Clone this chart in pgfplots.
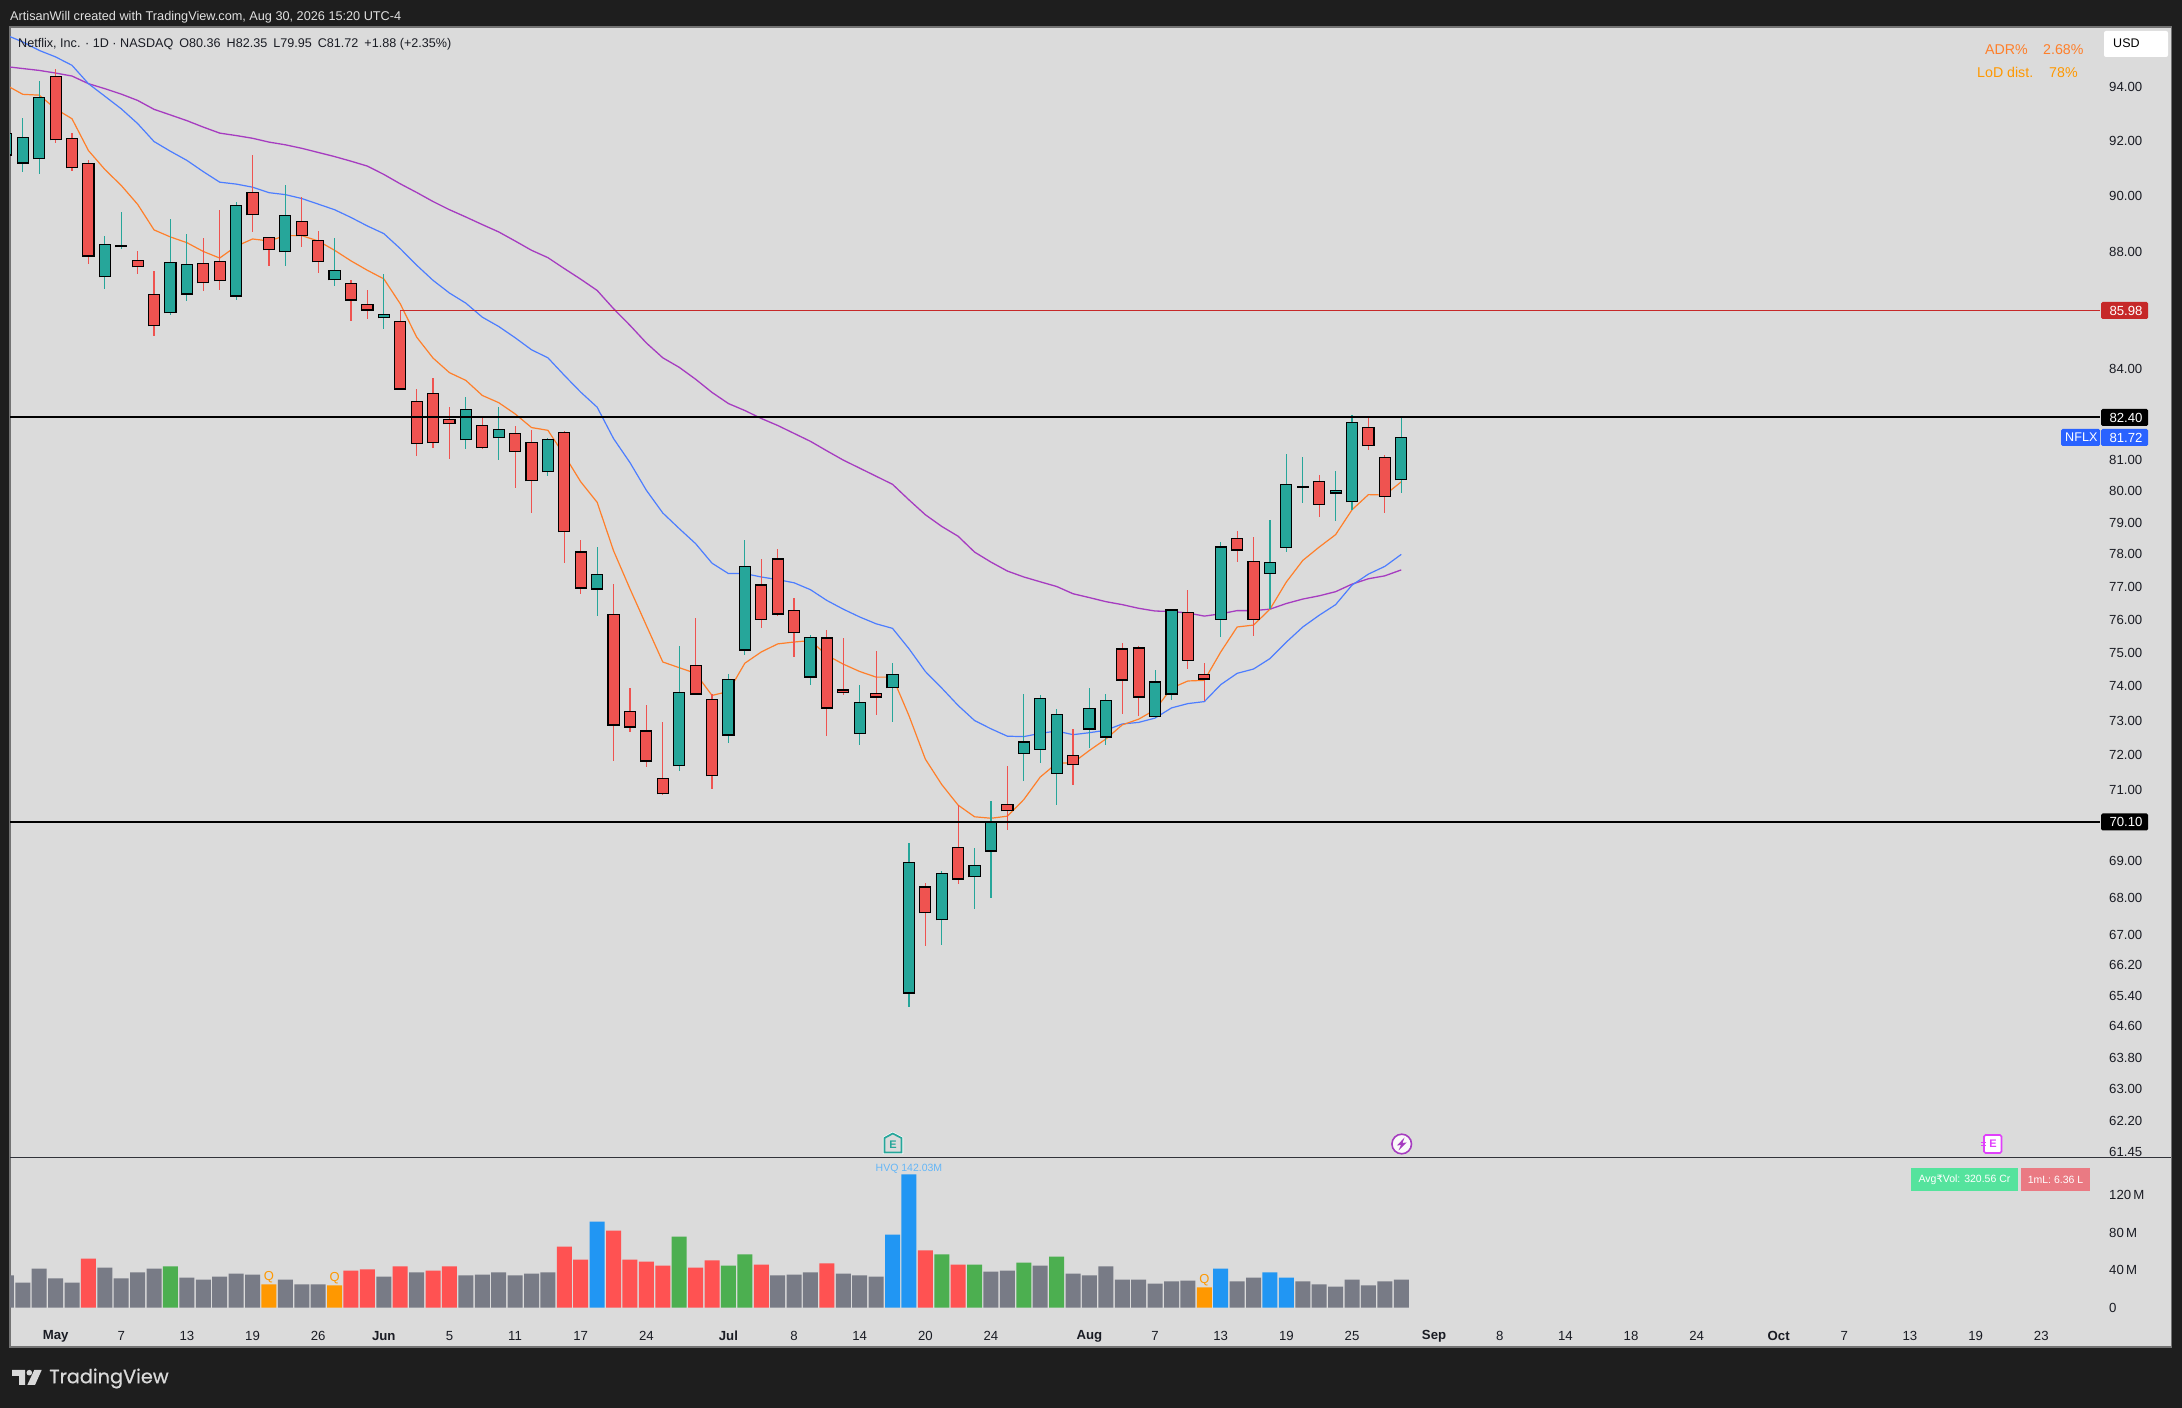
\documentclass[border=0pt]{standalone}
\usepackage{fontspec}
\setmainfont{Liberation Sans}
\newfontfamily\tvfont[FakeBold=0.7]{Poppins}
\newfontfamily\dejavu{DejaVu Sans}
\usepackage{pgfplots}
\usepackage{pgfplotstable}
\pgfplotsset{compat=1.18}
\definecolor{outer}{HTML}{1E1E1E}
\definecolor{panel}{HTML}{DBDBDB}
\definecolor{upc}{HTML}{26A69A}
\definecolor{downc}{HTML}{EF5350}
\definecolor{ema}{HTML}{FF7F2A}
\definecolor{sma}{HTML}{4C7DFF}
\definecolor{lma}{HTML}{A63CC0}
\definecolor{volgray}{HTML}{787B86}
\definecolor{volred}{HTML}{FF5252}
\definecolor{volgreen}{HTML}{4CAF50}
\definecolor{volblue}{HTML}{2196F3}
\definecolor{volorange}{HTML}{FF9800}
\definecolor{txt}{HTML}{1A1C24}
\definecolor{badgegreen}{HTML}{55E39D}
\definecolor{badgered}{HTML}{EA7A83}
\definecolor{badgeblue}{HTML}{2962FF}
\definecolor{levelred}{HTML}{C62828}
\definecolor{earn}{HTML}{E040FB}
% candles: n = trading days after May 1
\pgfplotstableread{
n o h l c
-3 91.49 92.45 91.41 92.27
-2 91.20 92.86 90.86 92.12
-1 91.35 94.22 90.79 93.60
3 87.15 88.57 86.72 88.27
7 85.90 89.17 85.81 87.64
8 86.55 88.64 86.30 87.57
11 86.48 89.80 86.33 89.65
14 88.02 90.38 87.52 89.30
17 87.04 88.50 86.82 87.36
20 85.73 87.23 85.34 85.83
25 81.66 83.07 81.35 82.64
27 81.72 82.74 81.00 81.98
30 80.62 81.72 80.47 81.66
33 76.94 78.25 76.12 77.37
38 71.69 75.21 71.53 73.81
41 72.58 74.36 72.33 74.19
42 75.08 78.44 74.92 77.64
46 74.28 75.54 74.04 75.47
49 72.63 74.03 72.28 73.51
51 73.96 74.68 72.95 74.35
52 65.47 69.50 65.10 68.96
54 67.41 68.75 66.73 68.66
56 68.58 69.36 67.70 68.88
57 69.29 70.70 67.99 70.10
59 72.05 73.76 71.25 72.37
60 72.17 73.73 71.76 73.63
61 71.48 73.32 70.57 73.17
63 72.76 73.96 72.18 73.34
64 72.52 73.76 72.30 73.57
67 73.11 74.50 73.09 74.13
68 73.78 76.33 73.59 76.29
71 76.02 78.39 75.47 78.23
74 77.43 79.10 76.32 77.76
75 78.24 81.18 78.09 80.21
78 79.95 80.63 79.05 80.01
79 79.66 82.45 79.41 82.21
82 80.36 82.35 79.95 81.72
}\upcandles
\pgfplotstableread{
n o h l c
4 88.20 89.42 88.13 88.24
76 80.13 81.08 79.61 80.14
}\dojis
\pgfplotstableread{
n o h l c
0 94.40 94.70 91.92 92.05
1 92.08 92.30 90.89 91.02
2 91.17 91.29 87.59 87.87
5 87.71 88.03 87.23 87.50
6 86.52 87.34 85.11 85.46
9 87.60 88.50 86.65 86.94
10 87.67 89.49 86.68 87.01
12 90.12 91.47 88.72 89.33
13 88.52 88.54 87.52 88.09
15 89.09 89.98 88.19 88.59
16 88.41 88.74 87.28 87.67
18 86.90 87.04 85.62 86.34
19 86.17 86.67 85.68 86.00
21 85.60 85.97 83.29 83.33
22 82.90 83.31 81.13 81.53
23 83.17 83.70 81.38 81.56
24 82.31 82.74 81.03 82.18
26 82.11 82.35 81.35 81.40
28 81.85 82.09 80.10 81.27
29 81.56 81.98 79.30 80.33
31 81.88 81.93 77.73 78.71
32 78.08 78.44 76.77 76.97
34 76.15 77.10 71.82 72.87
35 73.25 73.96 72.65 72.81
36 72.69 73.46 71.65 71.83
37 71.32 72.94 70.88 70.89
39 74.61 76.06 73.73 73.78
40 73.60 73.76 71.02 71.40
43 77.06 77.85 75.73 76.02
44 77.87 78.19 76.10 76.18
45 76.27 76.64 74.89 75.60
47 75.44 75.68 72.54 73.37
48 73.89 75.45 73.74 73.83
50 73.78 75.06 73.16 73.69
53 68.30 68.40 66.71 67.60
55 69.37 70.57 68.38 68.52
58 70.58 71.67 69.87 70.41
62 71.97 72.76 71.13 71.72
65 75.11 75.30 73.19 74.19
66 75.14 75.21 73.12 73.69
69 76.21 76.92 74.51 74.78
70 74.35 74.68 73.56 74.22
72 78.49 78.75 77.78 78.15
73 77.80 78.54 75.50 76.02
77 80.30 80.50 79.17 79.60
80 82.05 82.41 81.32 81.46
81 81.07 81.15 79.30 79.83
}\downcandles
\pgfplotstableread{
n ema sma lma
-3 94.07 95.97 94.77
-2 93.73 95.71 94.70
-1 93.70 95.39 94.63
0 93.19 95.14 94.53
1 92.82 94.82 94.42
2 91.65 94.13 94.13
3 90.96 93.66 93.94
4 90.38 93.19 93.74
5 89.70 92.64 93.50
6 88.79 91.98 93.17
7 88.54 91.62 92.96
8 88.34 91.29 92.75
9 88.03 90.88 92.51
10 87.80 90.50 92.29
11 88.21 90.43 92.20
12 88.47 90.32 92.10
13 88.40 90.12 91.96
14 88.59 90.05 91.86
15 88.59 89.91 91.73
16 88.40 89.71 91.58
17 88.07 89.51 91.43
18 87.70 89.23 91.26
19 87.37 88.93 91.08
20 87.07 88.66 90.78
21 86.21 88.13 90.44
22 85.07 87.55 90.13
23 84.36 87.02 89.80
24 83.87 86.58 89.51
25 83.61 86.23 89.25
26 83.11 85.75 88.98
27 82.87 85.43 88.72
28 82.50 85.05 88.40
29 82.05 84.64 88.07
30 81.96 84.37 87.81
31 81.15 83.78 87.43
32 80.29 83.22 87.06
33 79.65 82.72 86.67
34 78.12 81.69 86.04
35 76.94 80.91 85.47
36 75.82 80.02 84.87
37 74.72 79.31 84.37
38 74.55 78.82 84.05
39 74.38 78.34 83.65
40 73.73 77.73 83.21
41 73.85 77.41 82.84
42 74.69 77.41 82.61
43 75.02 77.31 82.35
44 75.26 77.22 82.12
45 75.33 77.12 81.86
46 75.36 76.92 81.60
47 74.93 76.58 81.29
48 74.66 76.32 80.99
49 74.44 76.08 80.73
50 74.27 75.87 80.47
51 74.27 75.73 80.21
52 73.14 75.12 79.73
53 71.88 74.44 79.26
54 71.15 73.95 78.89
55 70.57 73.44 78.57
56 70.24 72.99 78.07
57 70.20 72.76 77.77
58 70.26 72.54 77.49
59 70.73 72.53 77.31
60 71.36 72.62 77.16
61 71.76 72.69 77.01
62 71.77 72.59 76.79
63 72.13 72.64 76.67
64 72.46 72.71 76.55
65 72.87 72.89 76.46
66 73.04 72.94 76.35
67 73.31 73.07 76.26
68 73.95 73.37 76.25
69 74.16 73.49 76.21
70 74.18 73.55 76.11
71 75.02 74.05 76.18
72 75.78 74.38 76.28
73 75.84 74.51 76.28
74 76.32 74.82 76.32
75 77.15 75.32 76.49
76 77.82 75.78 76.63
77 78.24 76.13 76.73
78 78.63 76.46 76.86
79 79.41 77.05 77.09
80 79.89 77.40 77.25
81 79.88 77.63 77.34
82 80.29 78.00 77.52
}\mas
\pgfplotstableread{
n v
-3 34.2
-2 26.7
-1 41.6
0 31.0
1 26.7
3 42.7
4 31.0
5 37.4
6 41.6
8 32.0
9 29.9
10 33.1
11 36.3
12 35.2
14 29.9
15 24.6
16 24.6
20 33.1
22 37.4
25 34.2
26 35.2
27 37.4
28 34.2
29 36.3
30 37.4
44 34.2
45 35.2
46 37.4
48 36.3
49 34.2
50 33.1
57 38.4
58 39.5
60 44.8
62 36.3
63 34.2
64 43.8
65 29.9
66 29.9
67 25.6
68 27.8
69 28.8
72 27.8
73 32.0
76 27.8
77 24.6
78 22.4
79 29.9
80 23.5
81 27.8
82 29.9
}\volgrayt
\pgfplotstableread{
n v
2 52.3
18 39.5
19 40.6
21 43.8
23 39.5
24 43.8
31 65.1
32 51.2
34 82.2
35 51.2
36 49.1
37 44.8
39 42.7
40 50.2
43 45.9
47 47.0
53 60.9
55 45.9
}\volredt
\pgfplotstableread{
n v
7 43.8
38 75.8
41 44.8
42 56.6
54 56.6
56 45.9
59 48.0
61 54.4
}\volgreent
\pgfplotstableread{
n v
33 91.8
51 77.9
52 142.03
71 41.6
74 37.4
75 32.0
}\volbluet
\pgfplotstableread{
n v
13 24.6
17 23.5
70 21.4
}\volorangt
\newcommand{\fs}[1]{\fontsize{#1}{#1}\selectfont}
\pgfplotsset{
  wick/.style={draw=none,forget plot,error bars/.cd,y dir=both,y explicit,error mark=none,
    error bar style={draw=#1,line width=1.15pt}},
  bodyo/.style={draw=none,forget plot,error bars/.cd,y dir=plus,y explicit,error mark=none,
    error bar style={draw=black,line width=12.2pt,shorten <=-0.7pt,shorten >=-0.7pt}},
  bodyi/.style={draw=none,forget plot,error bars/.cd,y dir=plus,y explicit,error mark=none,
    error bar style={draw=#1,line width=10pt,shorten <=0.5pt,shorten >=0.5pt}},
  panelaxis/.style={scale only axis,width=2090pt,xmin=-2.779,xmax=124.58,
    axis line style={draw=none},tick style={draw=none},
    yticklabel pos=right,
    yticklabel style={anchor=west,inner sep=0pt,xshift=9pt,text=txt,font=\fs{13.2}}},
  volbar/.style={ybar,bar width=15pt,bar shift=0pt,draw=none,fill=#1,forget plot},
}
\begin{document}
\begin{tikzpicture}[x=1pt,y=1pt]
\useasboundingbox (0,0) rectangle (2182,1408);
\fill[outer] (0,0) rectangle (2182,1408);
\fill[panel,draw=black!55!white,line width=1.6pt] (10,61) rectangle (2171.5,1381);
\draw[line width=1.5pt,color=txt!90!white] (10,250.7) -- (2171,250.7);

\begin{axis}[panelaxis,at={(10pt,250.2pt)},anchor=south west,height=1130.3pt,
  ymode=log,ymin=61.30,ymax=96.27,xtick=\empty,
  ytick={94,92,90,88,84,81,80,79,78,77,76,75,74,73,72,71,69,68,67,66.2,65.4,64.6,63.8,63,62.2,61.45},
  yticklabels={94.00,92.00,90.00,88.00,84.00,81.00,80.00,79.00,78.00,77.00,76.00,75.00,74.00,73.00,72.00,71.00,69.00,68.00,67.00,66.20,65.40,64.60,63.80,63.00,62.20,61.45}]
\addplot[lma,line width=1.3pt,forget plot] table[x=n,y=lma]{\mas};
\addplot[sma,line width=1.2pt,forget plot] table[x=n,y=sma]{\mas};
\addplot[ema,line width=1.2pt,forget plot] table[x=n,y=ema]{\mas};
% wicks
\addplot[wick=upc] table[x=n,y=o,y error plus expr=\thisrow{h}-\thisrow{o},y error minus expr=\thisrow{o}-\thisrow{l}]{\upcandles};
\addplot[wick=upc] table[x=n,y=o,y error plus expr=\thisrow{h}-\thisrow{o},y error minus expr=\thisrow{o}-\thisrow{l}]{\dojis};
\addplot[wick=downc] table[x=n,y=c,y error plus expr=\thisrow{h}-\thisrow{c},y error minus expr=\thisrow{c}-\thisrow{l}]{\downcandles};
% bodies
\addplot[bodyo] table[x=n,y=o,y error plus expr=\thisrow{c}-\thisrow{o}]{\upcandles};
\addplot[bodyo] table[x=n,y=o,y error plus expr=\thisrow{c}-\thisrow{o}]{\dojis};
\addplot[bodyo] table[x=n,y=c,y error plus expr=\thisrow{o}-\thisrow{c}]{\downcandles};
\addplot[bodyi=upc] table[x=n,y=o,y error plus expr=\thisrow{c}-\thisrow{o}]{\upcandles};
\addplot[bodyi=downc] table[x=n,y=c,y error plus expr=\thisrow{o}-\thisrow{c}]{\downcandles};
% levels
\addplot[black,line width=1.2pt,forget plot] coordinates {(-2.779,82.40)(124.58,82.40)};
\addplot[black,line width=1.2pt,forget plot] coordinates {(-2.779,70.10)(124.58,70.10)};
\addplot[levelred,line width=1.15pt,forget plot] coordinates {(21,85.98)(124.58,85.98)};
\end{axis}

\begin{axis}[panelaxis,at={(10pt,60.5pt)},anchor=south west,height=189.7pt,
  ymin=-42.7,ymax=159.85,
  ytick={0,40,80,120},yticklabels={0,40\,M,80\,M,120\,M},
  xtick={0,4,8,12,16,20,24,28,32,36,41,45,49,53,57,63,67,71,75,79,84,88,92,96,100,105,109,113,117,121},
  xticklabels={\textbf{May},7,13,19,26,\textbf{Jun},5,11,17,24,\textbf{Jul},8,14,20,24,\textbf{Aug},7,13,19,25,\textbf{Sep},8,14,18,24,\textbf{Oct},7,13,19,23},
  xticklabel style={anchor=center,inner sep=0pt,yshift=11.5pt,text=txt,font=\fs{13.2}}]
\addplot[volbar=volgray] table[x=n,y=v]{\volgrayt};
\addplot[volbar=volred] table[x=n,y=v]{\volredt};
\addplot[volbar=volgreen] table[x=n,y=v]{\volgreent};
\addplot[volbar=volblue] table[x=n,y=v]{\volbluet};
\addplot[volbar=volorange] table[x=n,y=v]{\volorangt};
\node[anchor=south,inner sep=1pt,text=volorange,font=\fs{13}] at (axis cs:13,24.6) {Q};
\node[anchor=south,inner sep=1pt,text=volorange,font=\fs{13}] at (axis cs:17,23.5) {Q};
\node[anchor=south,inner sep=1pt,text=volorange,font=\fs{13}] at (axis cs:70,21.4) {Q};
\node[anchor=south,inner sep=1pt,text=volblue!70!white,font=\fs{10.5}] at (axis cs:52,142.03) {HVQ 142.03M};
\end{axis}

\begin{scope}[shift={(0,1408)},y=-1pt]
% header
\node[anchor=base west,inner sep=0pt,text=white!88!black,font=\fs{12.7}] at (10,20.5) {ArtisanWill created with TradingView.com, Aug 30, 2026 15:20 UTC-4};
\node[anchor=base west,inner sep=0pt,text=txt,font=\fs{12.6}] at (18,47.5) {Netflix, Inc. · 1D · NASDAQ\hspace{6pt}O80.36\hspace{6pt}H82.35\hspace{6pt}L79.95\hspace{6pt}C81.72\hspace{6pt}+1.88 (+2.35\%)};
% top right
\node[anchor=base west,inner sep=0pt,text=ema,font=\fs{14.2}] at (1985,54.5) {ADR\%};
\node[anchor=base west,inner sep=0pt,text=ema,font=\fs{14.2}] at (2043,54.5) {2.68\%};
\node[anchor=base west,inner sep=0pt,text=volorange,font=\fs{14.2}] at (1977,78) {LoD dist.};
\node[anchor=base west,inner sep=0pt,text=volorange,font=\fs{14.2}] at (2049,78) {78\%};
\fill[white,rounded corners=2pt] (2104,31) rectangle (2168,57);
\node[anchor=west,inner sep=0pt,text=black,font=\fs{12.5}] at (2113,43.5) {USD};
% price badges
\fill[levelred,rounded corners=1.5pt] (2101,302) rectangle (2148,319);
\node[anchor=west,inner sep=0pt,text=white,font=\fs{13.2}] at (2109.3,310.5) {85.98};
\fill[black,rounded corners=1.5pt] (2101,409) rectangle (2148,426);
\node[anchor=west,inner sep=0pt,text=white,font=\fs{13.2}] at (2109.3,417.5) {82.40};
\fill[black,rounded corners=1.5pt] (2101,813.5) rectangle (2148,830.5);
\node[anchor=west,inner sep=0pt,text=white,font=\fs{13.2}] at (2109.3,822) {70.10};
\fill[badgeblue,rounded corners=1.5pt] (2061,429) rectangle (2100,446);
\fill[badgeblue,rounded corners=1.5pt] (2101,429) rectangle (2148,446);
\node[anchor=west,inner sep=0pt,text=white,font=\fs{12.6}] at (2065,437.5) {NFLX};
\node[anchor=west,inner sep=0pt,text=white,font=\fs{13.2}] at (2109.3,437.5) {81.72};
% volume badges
\fill[badgegreen] (1911,1168) rectangle (2018,1191);
\node[inner sep=0pt,text=white,font=\fs{10.5}] at (1964.5,1179.5) {Avg{\dejavu\fs{10}₹}Vol: 320.56 Cr};
\fill[badgered] (2021,1168) rectangle (2090,1191);
\node[inner sep=0pt,text=white,font=\fs{10.5}] at (2055.5,1179.5) {1mL: 6.36 L};
% event icons
\filldraw[fill=white!90!panel,draw=white] (883,1137.5) -- (892.7,1132) -- (903,1137.5) -- (903,1154) -- (883,1154) -- cycle;
\draw[upc,line width=1.7pt,fill=panel] (884.5,1138) -- (892.7,1133.5) -- (901.5,1138) -- (901.5,1152.5) -- (884.5,1152.5) -- cycle;
\node[inner sep=0pt,text=upc,font=\fs{11}\bfseries] at (893,1145) {E};
\filldraw[draw=lma,line width=1.6pt,fill=white!85!panel] (1401.7,1144) circle[radius=9.8pt];
\fill[lma] (1404.5,1137.5) -- (1397,1145.5) -- (1401,1145) -- (1398.5,1150.5) -- (1406.5,1142.5) -- (1402.5,1143) -- cycle;
\filldraw[draw=earn,line width=1.6pt,fill=white,rounded corners=1.5pt] (1984,1135) rectangle (2001.5,1153);
\draw[earn,line width=1.2pt] (1981,1142.5) -- (1986,1142.5) (1981,1145.5) -- (1986,1145.5);
\node[inner sep=0pt,text=earn,font=\fs{11}\bfseries] at (1993,1144) {E};
% logo
\fill[white!85!black] (12,1370) -- (25,1370) -- (25,1385) -- (19,1385) -- (19,1376) -- (12,1376) -- cycle;
\fill[white!85!black] (29.3,1372.7) circle[radius=2.8pt];
\fill[white!85!black] (34.3,1370) -- (41.7,1370) -- (35,1385) -- (27.3,1385) -- cycle;
\node[anchor=west,inner sep=0pt,text=white!85!black,font=\tvfont\fs{19.3}] at (49,1378.5) {TradingView};
\end{scope}
\end{tikzpicture}
\end{document}
